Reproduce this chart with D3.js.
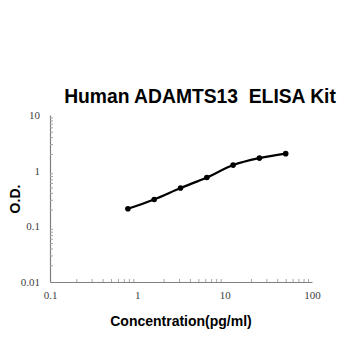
<!DOCTYPE html>
<html>
<head>
<meta charset="utf-8">
<script src="https://cdn.jsdelivr.net/npm/d3@7"></script>
<style>
  body { margin: 0; background: #fff; }
  svg { display: block; }
</style>
</head>
<body>
<svg id="chart" width="350" height="350"></svg>
<script>
const title = 'Human ADAMTS13\u00a0 ELISA Kit'
const xLabel = 'Concentration(pg/ml)'
const yLabel = 'O.D.'

// standard curve points
const conc = [0.78, 1.56, 3.125, 6.25, 12.5, 25, 50]
const od = [0.207, 0.304, 0.488, 0.755, 1.26, 1.68, 2.02]

const xTicks = [0.1, 1, 10, 100]
const yTicks = [0.01, 0.1, 1, 10]
const xTickLabels = ['0.1', '1', '10', '100']
const yTickLabels = ['0.01', '0.1', '1', '10']

const svg = d3.select('#chart')
const margin = { top: 115, right: 38, bottom: 68, left: 50 }
const width = +svg.attr('width') - margin.left - margin.right
const height = +svg.attr('height') - margin.top - margin.bottom
const g = svg.append('g')
    .attr('transform', `translate(${margin.left},${margin.top})`)

const x = d3.scaleLog().domain([0.1, 100]).range([0, width])
const y = d3.scaleLog().domain([0.01, 10]).range([height, 0])

// minor ticks 2..9 in each decade
const minors = ticks => {
    const out = []
    for (let i = 0; i < ticks.length - 1; i++) {
        for (let k = 2; k <= 9; k++) out.push(ticks[i] * k)
    }
    return out
}

// x axis: minor ticks pointing in, labels below
const xMinor = g.append('g')
    .attr('transform', `translate(0,${height})`)
    .call(d3.axisBottom(x).tickValues(minors(xTicks)).tickSize(-3).tickSizeOuter(0).tickFormat(''))
xMinor.select('.domain').attr('stroke', '#7f7f7f').attr('stroke-width', 1.2)
xMinor.selectAll('.tick line').attr('stroke', '#a6a6a6')

const xLab = g.append('g')
    .attr('transform', `translate(0,${height})`)
    .call(d3.axisBottom(x).tickValues(xTicks).tickSize(0).tickPadding(9)
        .tickFormat((d, i) => xTickLabels[i]))
xLab.select('.domain').remove()
xLab.selectAll('text')
    .attr('font-family', '"Liberation Serif", serif')
    .attr('font-size', 11)
    .attr('fill', '#404040')

// y axis
const yMinor = g.append('g')
    .call(d3.axisLeft(y).tickValues(minors(yTicks)).tickSize(-3).tickSizeOuter(0).tickFormat(''))
yMinor.select('.domain').attr('stroke', '#7f7f7f').attr('stroke-width', 1.2)
yMinor.selectAll('.tick line').attr('stroke', '#a6a6a6')

const yLab = g.append('g')
    .call(d3.axisLeft(y).tickValues(yTicks).tickSize(0).tickPadding(10)
        .tickFormat((d, i) => yTickLabels[i]))
yLab.select('.domain').remove()
yLab.selectAll('text')
    .attr('font-family', '"Liberation Serif", serif')
    .attr('font-size', 11)
    .attr('fill', '#404040')

const data = conc.map((c, i) => ({ c: c, v: od[i] }))

const line = d3.line()
    .curve(d3.curveCatmullRom)
    .x(d => x(d.c))
    .y(d => y(d.v))

g.append('path')
    .datum(data)
    .attr('fill', 'none')
    .attr('stroke', '#000')
    .attr('stroke-width', 2.2)
    .attr('d', line)

g.selectAll('.dot')
    .data(data)
    .enter().append('circle')
    .attr('class', 'dot')
    .attr('cx', d => x(d.c))
    .attr('cy', d => y(d.v))
    .attr('r', 2.8)
    .attr('fill', '#000')

// title and axis labels
svg.append('text')
    .attr('x', 200)
    .attr('y', 103)
    .attr('text-anchor', 'middle')
    .attr('font-family', '"Liberation Sans", Arial, sans-serif')
    .attr('font-weight', 'bold')
    .attr('font-size', 19.3)
    .attr('fill', '#000')
    .text(title)

svg.append('text')
    .attr('x', 181)
    .attr('y', 326)
    .attr('text-anchor', 'middle')
    .attr('font-family', '"Liberation Sans", Arial, sans-serif')
    .attr('font-weight', 'bold')
    .attr('font-size', 14)
    .attr('fill', '#000')
    .text(xLabel)

svg.append('text')
    .attr('transform', 'translate(20,199) rotate(-90)')
    .attr('text-anchor', 'middle')
    .attr('font-family', '"Liberation Sans", Arial, sans-serif')
    .attr('font-weight', 'bold')
    .attr('font-size', 14)
    .attr('fill', '#000')
    .text(yLabel)
</script>
</body>
</html>
